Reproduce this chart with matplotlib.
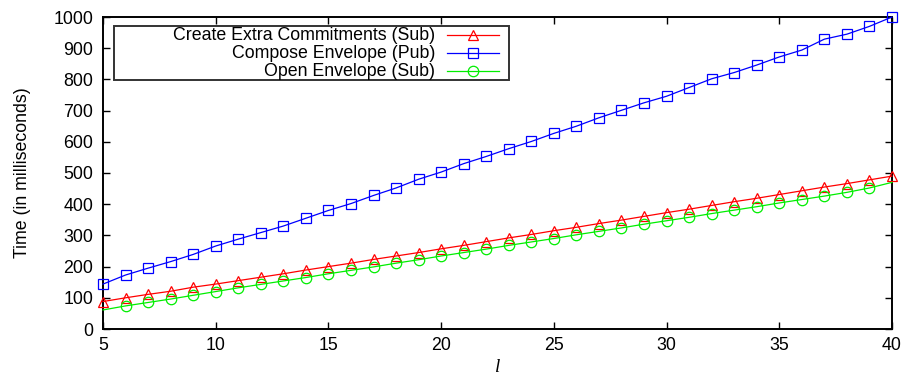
import matplotlib
matplotlib.use("Agg")
import matplotlib.pyplot as plt
from matplotlib.lines import Line2D
from matplotlib.patches import Rectangle
import numpy as np

plt.rcParams['font.family'] = ['Liberation Sans', 'DejaVu Sans']

l_values = list(range(5, 41))
create_extra = [88, 100, 111, 121, 134, 144, 155, 166, 177, 189, 200, 211, 223, 234, 245,
                257, 268, 280, 292, 303, 315, 326, 338, 349, 361, 373, 384, 396, 408, 419,
                431, 443, 455, 466, 478, 490]
compose_env = [144, 173, 195, 216, 239, 266, 288, 309, 330, 355, 380, 402, 428, 452, 480,
               503, 530, 553, 578, 601, 627, 650, 677, 701, 725, 746, 774, 802, 822, 846,
               872, 894, 929, 945, 970, 1000]
open_env = [61, 74, 85, 96, 108, 120, 132, 143, 154, 165, 177, 188, 199, 211, 222,
            234, 245, 256, 268, 279, 290, 302, 313, 324, 336, 347, 358, 370, 381, 392,
            404, 415, 426, 438, 452, 470]
labels = ["Create Extra Commitments (Sub)", "Compose Envelope (Pub)", "Open Envelope (Sub)"]
x_ticks = [5, 10, 15, 20, 25, 30, 35, 40]
y_ticks = list(range(0, 1001, 100))

FS = 12.8
fig = plt.figure(figsize=(9.07, 3.81), dpi=100)
ax = fig.add_axes([103/907, 1 - 329/381, 789/907, 312/381])

styles = [
    dict(color='#ff0000', marker='^', markersize=7.5),
    dict(color='#0000ff', marker='s', markersize=7.5),
    dict(color='#00ee00', marker='o', markersize=7.5),
]
series = [create_extra, compose_env, open_env]
for i, (vals, st) in enumerate(zip(series, styles)):
    me = slice(1, -1) if i == 2 else None
    ax.plot(l_values, vals, color=st['color'], lw=0.9, marker=st['marker'],
            markersize=st['markersize'], markerfacecolor='none', markeredgewidth=0.9,
            markevery=me, clip_on=False, zorder=3)

ax.set_xlim(5, 40)
ax.set_ylim(0, 1000)
ax.set_xticks(x_ticks)
ax.set_yticks(y_ticks)
ax.tick_params(direction='in', top=True, right=True, length=5, width=1,
               labelsize=FS, colors='black')
ax.tick_params(axis='y', pad=7)
ax.tick_params(axis='x', pad=6)
for s in ax.spines.values():
    s.set_linewidth(1.4)
ax.set_ylabel("Time (in milliseconds)", fontsize=FS, labelpad=16)
ax.set_xlabel("l", fontsize=FS + 1, fontstyle='italic',
              fontfamily=['Liberation Serif', 'DejaVu Serif'], labelpad=3)

# legend box
W, H = 789, 312
def fx(px):
    return (px - 103) / W
def fy(py):
    return (329 - py) / H
ax.add_patch(Rectangle((fx(114), fy(80)), fx(509) - fx(114), fy(26) - fy(80),
                       transform=ax.transAxes, fill=True, facecolor='white',
                       edgecolor='#333333', lw=1.4, zorder=5))
rows = [35, 53, 71]
for lab, st, ry in zip(labels, styles, rows):
    ax.text(fx(435), fy(ry), lab, transform=ax.transAxes, ha='right', va='center',
            fontsize=FS, zorder=6)
    ax.add_line(Line2D([fx(447), fx(499)], [fy(ry), fy(ry)], transform=ax.transAxes,
                       color=st['color'], lw=0.9, zorder=6))
    ax.add_line(Line2D([fx(473)], [fy(ry)], transform=ax.transAxes,
                       color=st['color'], marker=st['marker'], markersize=st['markersize'],
                       markerfacecolor='none', markeredgewidth=0.9, zorder=6))

fig.savefig("out.png", dpi=100)
